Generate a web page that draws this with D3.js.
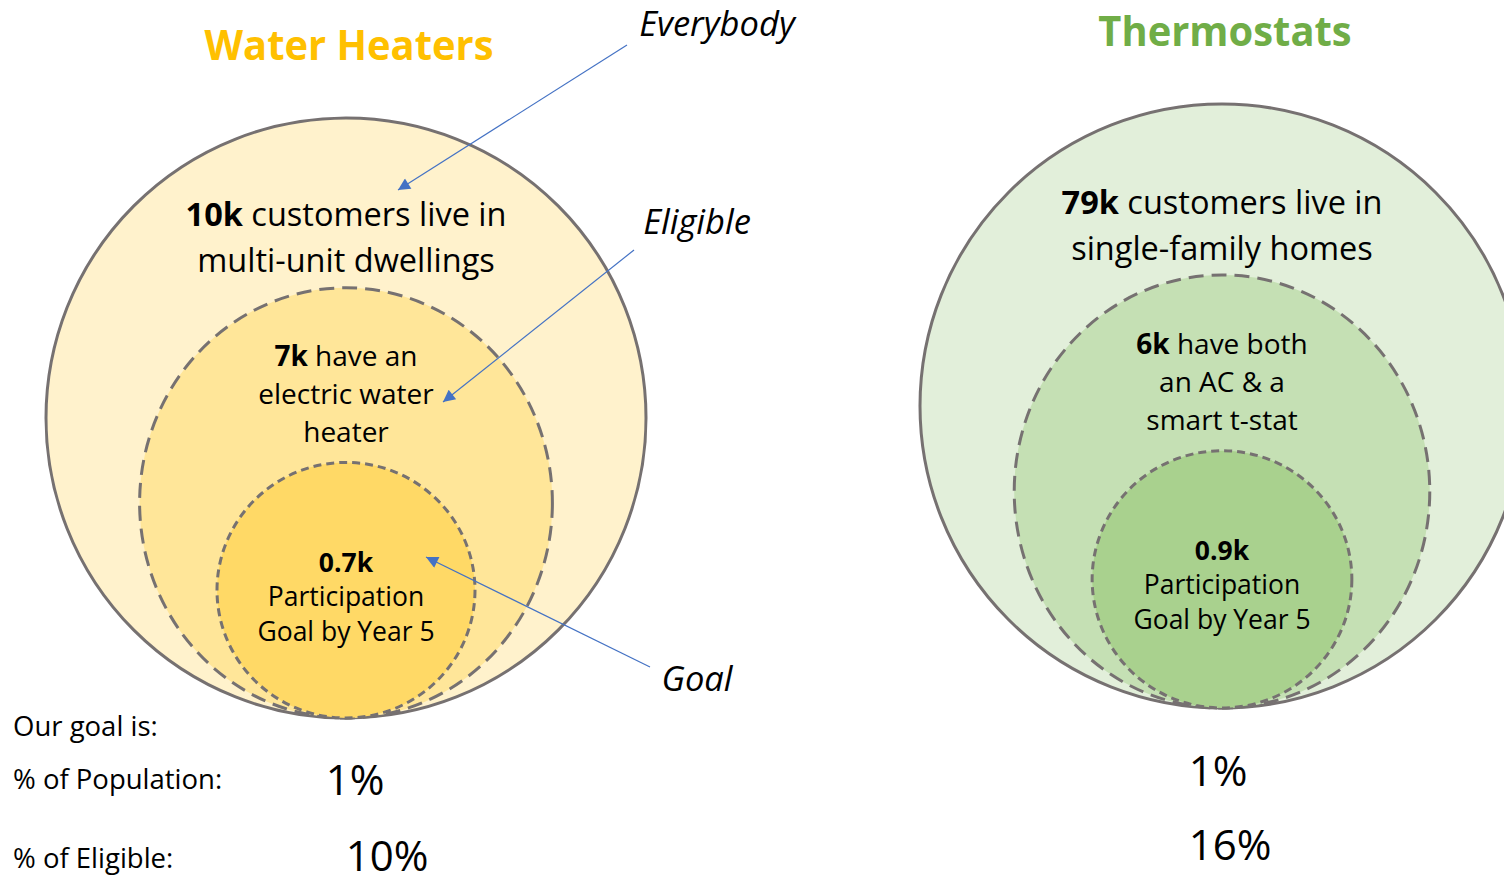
<!DOCTYPE html>
<html>
<head>
<meta charset="utf-8">
<script src="https://cdn.jsdelivr.net/npm/d3@7"></script>
<style>
  body { margin: 0; background: #fff; }
  svg { display: block; font-family: "Open Sans", sans-serif; }
</style>
</head>
<body>
<div id="chart"></div>
<script>
// programs and their numbers
var programs = ["Water Heaters", "Thermostats"];
var titleColors = ["#FFC000", "#70AD47"];
var levelFills = [["#FFF2CC", "#FFE699", "#FFD966"], ["#E2EFDA", "#C5E0B4", "#A9D18E"]];
var levels = ["Everybody", "Eligible", "Goal"];
var counts = [["10k", "7k", "0.7k"], ["79k", "6k", "0.9k"]];
var descriptions = [
  [["customers live in", "multi-unit dwellings"], ["have an", "electric water", "heater"], ["", "Participation", "Goal by Year 5"]],
  [["customers live in", "single-family homes"], ["have both", "an AC & a", "smart t-stat"], ["", "Participation", "Goal by Year 5"]]
];
var rowLabels = ["Our goal is:", "% of Population:", "% of Eligible:"];
var pctPopulation = ["1%", "1%"];
var pctEligible = ["10%", "16%"];

var width = 1504, height = 876;

var svg = d3.select("#chart").append("svg")
  .attr("width", width)
  .attr("height", height);

// panel centres
var xScale = d3.scalePoint().domain(programs).range([346, 1222]);
var outerCy = [418, 406];
var outerR = [300, 302];
// nested ellipses sit on the bottom of the outer circle
var rxFactor = [1, 0.688, 0.43];
var ryFactor = [1, 0.717, 0.426];
var dashes = [null, "15,8", "8,5"];

// text offsets from the outer centre
var lineY = [[-192, -146], [-52, -14, 24], [154, 188, 223]];
var lineSize = [32.5, 28, 26.5];

function squeezedText(g, x, y, size, sx) {
  return g.append("text")
    .attr("transform", "translate(" + x + "," + y + ") scale(" + (sx || 1) + ",1)")
    .attr("text-anchor", "middle")
    .style("font-size", size + "px");
}

programs.forEach(function(p, i) {
  var g = svg.append("g");
  var cx = xScale(p);
  var cy = outerCy[i];
  var r = outerR[i];
  var bottom = cy + r;

  levels.forEach(function(l, j) {
    var ry = r * ryFactor[j];
    g.append("ellipse")
      .attr("cx", cx)
      .attr("cy", bottom - ry)
      .attr("rx", r * rxFactor[j])
      .attr("ry", ry)
      .attr("fill", levelFills[i][j])
      .attr("stroke", "#767171")
      .attr("stroke-width", 3)
      .attr("stroke-dasharray", dashes[j]);
  });

  // labels inside the circles
  levels.forEach(function(l, j) {
    var lines = descriptions[i][j];
    lines.forEach(function(line, k) {
      var t = squeezedText(g, cx, cy + lineY[j][k], lineSize[j]).attr("fill", "#000");
      if (k == 0) {
        t.append("tspan").style("font-weight", 700).text(counts[i][j]);
        if (line) t.append("tspan").text(" " + line);
      } else {
        t.text(line);
      }
    });
  });

  // title
  squeezedText(g, cx + 3, i == 0 ? 60 : 46, 42, 0.95)
    .style("font-weight", 700)
    .attr("fill", titleColors[i])
    .text(p);
});

// percentages under each panel
var pctPos = [[[355, 795], [387, 871]], [[1218, 786], [1230, 860]]];
programs.forEach(function(p, i) {
  squeezedText(svg, pctPos[i][0][0], pctPos[i][0][1], 42).text(pctPopulation[i]);
  squeezedText(svg, pctPos[i][1][0], pctPos[i][1][1], 42).text(pctEligible[i]);
});

// row labels on the left
var rowY = [736, 789, 868];
rowLabels.forEach(function(l, k) {
  svg.append("text")
    .attr("x", 13)
    .attr("y", rowY[k])
    .style("font-size", "27.5px")
    .text(l);
});

// arrow annotations for the water heater circles
svg.append("defs").append("marker")
  .attr("id", "arrow")
  .attr("viewBox", "0 0 10 10")
  .attr("refX", 10).attr("refY", 5)
  .attr("markerWidth", 16).attr("markerHeight", 12)
  .attr("markerUnits", "userSpaceOnUse")
  .attr("orient", "auto")
  .append("path")
  .attr("d", "M0,0 L10,5 L0,10 Z")
  .attr("fill", "#4472C4");

var annoText = [[717, 36], [697, 234], [697, 691]];
var annoLine = [[627, 45, 398, 190], [634, 250, 443, 402], [650, 667, 426, 557]];
levels.forEach(function(l, j) {
  squeezedText(svg, annoText[j][0], annoText[j][1], 34.5)
    .style("font-style", "italic")
    .text(l);
  svg.append("line")
    .attr("x1", annoLine[j][0]).attr("y1", annoLine[j][1])
    .attr("x2", annoLine[j][2]).attr("y2", annoLine[j][3])
    .attr("stroke", "#4472C4")
    .attr("stroke-width", 1.2)
    .attr("marker-end", "url(#arrow)");
});
</script>
</body>
</html>
